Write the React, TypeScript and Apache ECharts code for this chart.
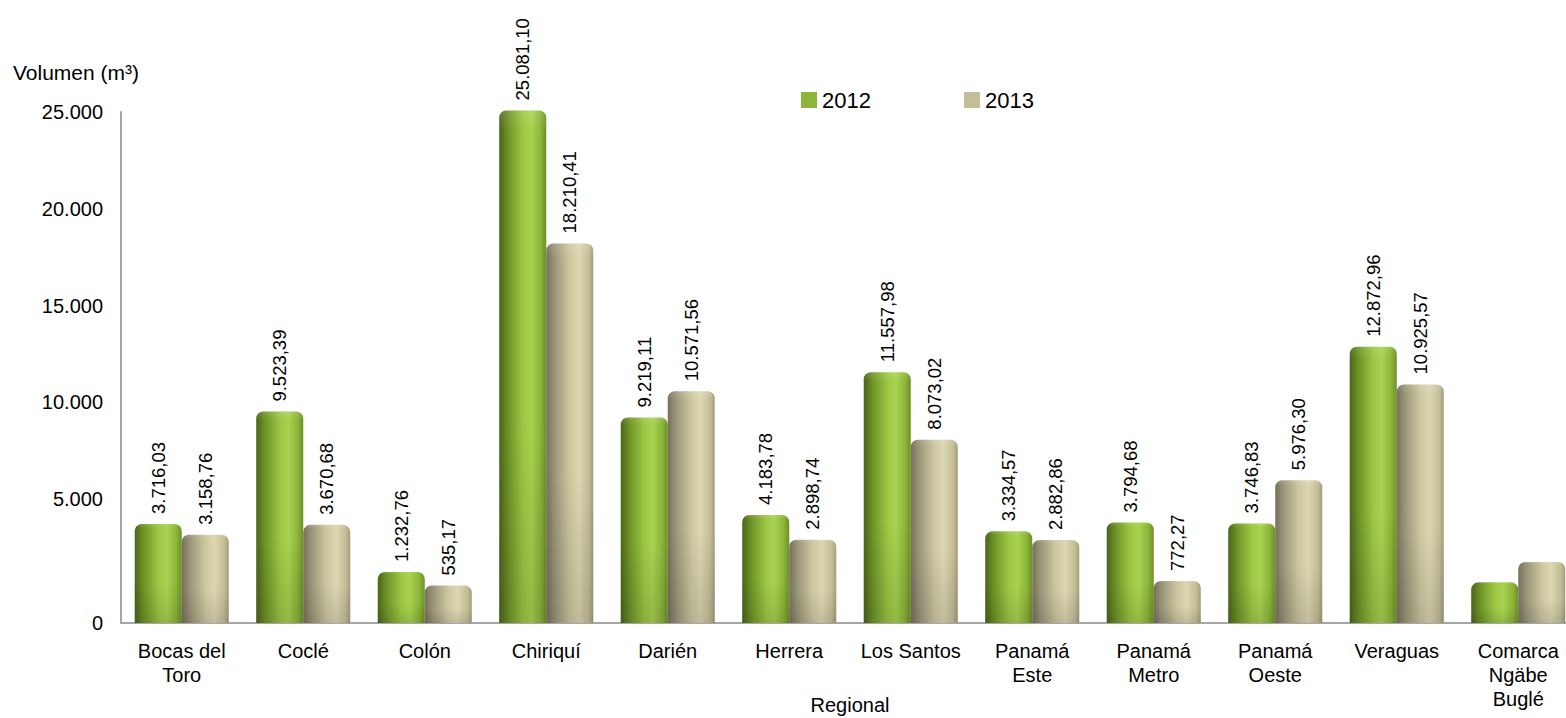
import React, { useEffect, useRef } from "react";
import * as echarts from "echarts";

const CATEGORIES = [
  "Bocas del\nToro",
  "Coclé",
  "Colón",
  "Chiriquí",
  "Darién",
  "Herrera",
  "Los Santos",
  "Panamá\nEste",
  "Panamá\nMetro",
  "Panamá\nOeste",
  "Veraguas",
  "Comarca\nNgäbe\nBuglé",
];
const SERIES_NAMES = ["2012", "2013"];
const VALUES_2012 = [3716.03, 9523.39, 1232.76, 25081.1, 9219.11, 4183.78, 11557.98, 3334.57, 3794.68, 3746.83, 12872.96, 700];
const VALUES_2013 = [3158.76, 3670.68, 535.17, 18210.41, 10571.56, 2898.74, 8073.02, 2882.86, 772.27, 5976.3, 10925.57, 1750];
const SHOW_LABEL = [true, true, true, true, true, true, true, true, true, true, true, false];
const Y_TICKS = [0, 5000, 10000, 15000, 20000, 25000];
const Y_MAX = 25000;
const Y_FLOOR = -1400; // front edge of the 3D floor

const FONT = '"Liberation Sans", Arial, sans-serif';

function fmt(v: number, dec: number): string {
  const s = v.toFixed(dec);
  const [i, f] = s.split(".");
  const int = i.replace(/\B(?=(\d{3})+(?!\d))/g, ".");
  return f ? int + "," + f : int;
}

const GREEN_STOPS = [
  { offset: 0, color: "#4a6519" },
  { offset: 0.18, color: "#6d9126" },
  { offset: 0.5, color: "#9cc744" },
  { offset: 0.68, color: "#a8d350" },
  { offset: 0.88, color: "#8db53a" },
  { offset: 1, color: "#6c8f27" },
];
const BEIGE_STOPS = [
  { offset: 0, color: "#75705a" },
  { offset: 0.18, color: "#9b967a" },
  { offset: 0.5, color: "#cdc7a1" },
  { offset: 0.7, color: "#dcd6b1" },
  { offset: 0.9, color: "#c4be98" },
  { offset: 1, color: "#a39d7e" },
];

function makeRender(seriesIdx: number) {
  const stops = seriesIdx === 0 ? GREEN_STOPS : BEIGE_STOPS;
  return (params: any, api: any) => {
    const idx = api.value(0);
    const val = api.value(1);
    const top = api.coord([idx, val]);
    const base = api.coord([idx, Y_FLOOR]);
    const band = api.size([1, 0])[0];
    const w = band * 0.387;
    const cx = top[0];
    const x = seriesIdx === 0 ? cx - w : cx;
    const h = base[1] - top[1];
    const r = Math.min(7, h / 2);
    const children: any[] = [
      {
        type: "rect",
        shape: { x, y: top[1], width: w, height: h, r: [r, r, 0, 0] },
        style: {
          fill: { type: "linear", x: 0, y: 0, x2: 1, y2: 0, colorStops: stops },
        },
      },
      {
        type: "rect",
        shape: { x, y: top[1], width: w, height: h, r: [r, r, 0, 0] },
        style: {
          fill: {
            type: "linear",
            x: 0,
            y: 0,
            x2: 0,
            y2: 1,
            colorStops: [
              { offset: 0, color: "rgba(255,255,255,0.12)" },
              { offset: 0.04, color: "rgba(255,255,255,0)" },
              { offset: 0.6, color: "rgba(0,0,0,0)" },
              { offset: 1, color: "rgba(0,0,0,0.12)" },
            ],
          },
        },
      },
    ];
    if (SHOW_LABEL[params.dataIndex]) {
      children.push({
        type: "text",
        x: x + w / 2,
        y: top[1] - 10,
        rotation: Math.PI / 2,
        style: {
          text: fmt(val, 2),
          fill: "#000",
          font: `18.5px ${FONT}`,
          align: "left",
          verticalAlign: "middle",
        },
      });
    }
    return { type: "group", children };
  };
}

export default function App() {
  const ref = useRef<HTMLDivElement>(null);
  useEffect(() => {
    if (!ref.current) return;
    const chart = echarts.init(ref.current, undefined, { renderer: "svg" });
    const seriesData = [VALUES_2012, VALUES_2013];
    chart.setOption({
      animation: false,
      textStyle: { fontFamily: FONT },
      grid: {
        left: 121,
        right: -13,
        top: 112,
        bottom: 95,
        containLabel: false,
        outerBoundsMode: "none",
      },
      legend: {
        data: SERIES_NAMES,
        left: 801,
        top: 89,
        padding: 0,
        itemWidth: 16,
        itemHeight: 16,
        itemGap: 93,
        icon: "rect",
        textStyle: { fontSize: 22, color: "#000", fontFamily: FONT },
      },
      xAxis: {
        type: "category",
        data: CATEGORIES,
        name: "Regional",
        nameLocation: "middle",
        nameGap: 72,
        nameMoveOverlap: false,
        nameTextStyle: { fontSize: 20, color: "#000", fontFamily: FONT },
        axisLine: { show: true, onZero: false, lineStyle: { color: "#a6a6a6", width: 2 } },
        axisTick: { show: false },
        axisLabel: {
          interval: 0,
          margin: 16,
          fontSize: 20,
          lineHeight: 24,
          color: "#000",
          fontFamily: FONT,
        },
      },
      yAxis: {
        type: "value",
        min: Y_FLOOR,
        max: Y_MAX,
        axisLine: { show: true, lineStyle: { color: "#a6a6a6", width: 2 } },
        axisTick: { show: false },
        splitLine: { show: false },
        axisLabel: {
          customValues: Y_TICKS.map((t) => (t === 0 ? Y_FLOOR : t)),
          formatter: (v: number) => (v <= 0 ? "0" : fmt(v, 0)),
          margin: 18,
          fontSize: 20,
          color: "#000",
          fontFamily: FONT,
        },
      },
      graphic: [
        {
          type: "text",
          x: 13,
          y: 72,
          style: {
            text: "Volumen (m³)",
            font: `21px ${FONT}`,
            fill: "#000",
            verticalAlign: "middle",
          },
        },
      ],
      series: SERIES_NAMES.map((name, si) => ({
        name,
        type: "custom",
        itemStyle: { color: si === 0 ? "#8db53a" : "#c4be98" },
        encode: { x: 0, y: 1 },
        data: seriesData[si].map((v, i) => [i, v]),
        renderItem: makeRender(si),
        clip: false,
      })),
    });
    return () => chart.dispose();
  }, []);
  return (
    <div
      ref={ref}
      style={{ position: "absolute", left: 0, top: 0, width: 1566, height: 718 }}
    />
  );
}
